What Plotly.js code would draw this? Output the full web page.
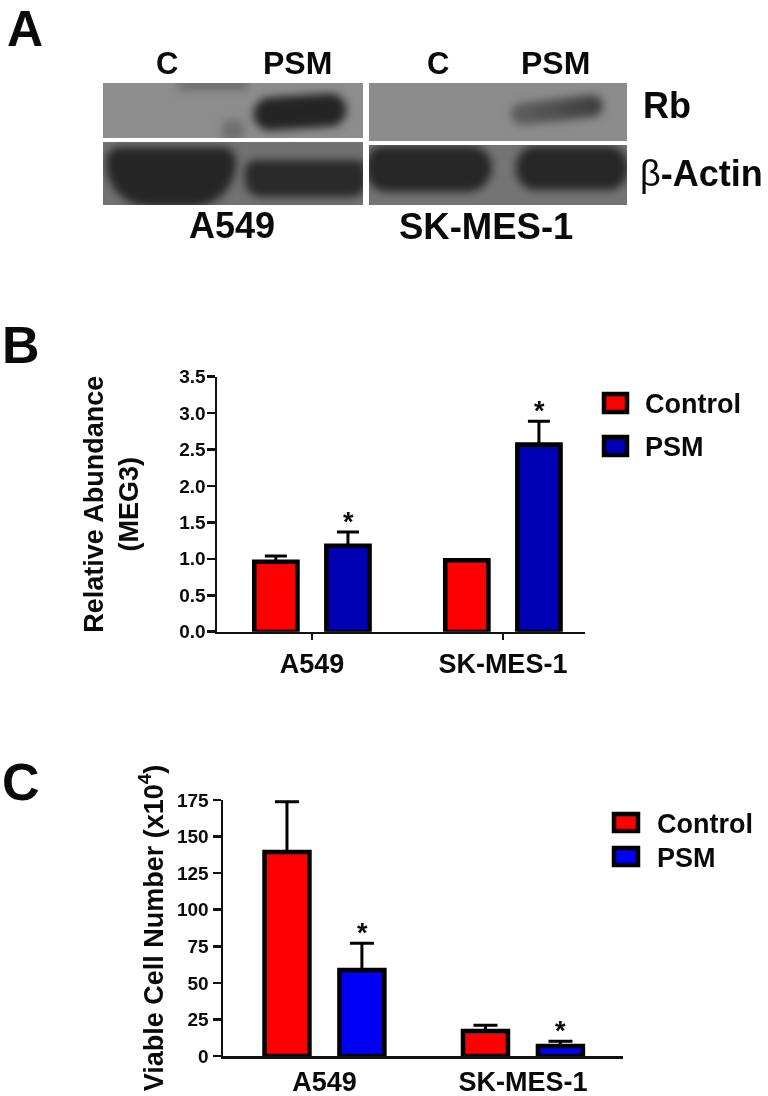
<!DOCTYPE html>
<html><head><meta charset="utf-8">
<script src="https://cdn.plot.ly/plotly-3.0.1.min.js"></script>
<style>html,body{margin:0;padding:0;background:#fff}#chart{width:768px;height:1096px;filter:blur(0.4px)}</style>
</head><body><div id="chart"></div>
<script>
const categories = ['A549', 'SK-MES-1'];
const meg3Control = [0.96, 0.98];
const meg3ControlErr = [0.08, 0];
const meg3Psm = [1.18, 2.57];
const meg3PsmErr = [0.19, 0.32];
const cellControl = [139.5, 17.1];
const cellControlErr = [34.3, 3.9];
const cellPsm = [58.8, 6.8];
const cellPsmErr = [18.2, 3.2];
const meg3Ticks = [0, 0.5, 1, 1.5, 2, 2.5, 3, 3.5];
const meg3TickText = ['0.0','0.5','1.0','1.5','2.0','2.5','3.0','3.5'];
const cellTicks = [0, 25, 50, 75, 100, 125, 150, 175];

const W = 768, H = 1096;
const FONT = '"Liberation Sans", Arial, sans-serif';
const RED = '#ff0000', NAVY = '#0000b4', BLUE = '#0000f5', INK = '#0a0a0a';
const px = v => v / W, py = v => 1 - v / H;

function blot() {
  const c = document.createElement('canvas'); c.width = W; c.height = 240;
  const g = c.getContext('2d');
  g.fillStyle = '#fff'; g.fillRect(0, 0, W, 240);
  function panel(x, y, w, h, bg, bands, strokes) {
    g.save(); g.beginPath(); g.rect(x, y, w, h); g.clip();
    g.fillStyle = bg; g.fillRect(x, y, w, h);
    g.filter = 'blur(4.5px)';
    bands.forEach(b => {
      g.fillStyle = b[5]; g.beginPath();
      g.roundRect(b[0], b[1], b[2], b[3], b[4]); g.fill();
    });
    (strokes || []).forEach(s => {
      const grad = g.createLinearGradient(s[0], 0, s[2], 0);
      grad.addColorStop(0, s[5]); grad.addColorStop(1, s[6]);
      g.strokeStyle = grad; g.lineWidth = s[4]; g.lineCap = 'round';
      g.beginPath(); g.moveTo(s[0], s[1]); g.lineTo(s[2], s[3]); g.stroke();
    });
    g.restore();
  }
  panel(103, 83, 260, 55, '#8d8d8d', [
    [178, 80, 70, 10, 4, '#6a6a6a'], [222, 120, 22, 22, 8, '#6f6f6f']],
    [[270, 114, 330, 110, 33, '#242424', '#242424']]);
  panel(369, 83, 258, 58, '#8c8c8c', [],
    [[522, 114, 592, 106, 22, '#5c5c5c', '#404040']]);
  panel(103, 142, 260, 63, '#727272', [
    [106, 147, 130, 60, [14, 14, 44, 44], '#262626'],
    [245, 160, 122, 37, [10, 10, 16, 16], '#2a2a2a']]);
  panel(369, 145, 258, 60, '#747474', [
    [366, 146, 126, 46, [18, 22, 26, 22], '#272727'], [516, 146, 112, 44, 20, '#272727']]);
  return c.toDataURL('image/png');
}

function txt(text, x, y, size, extra) {
  return Object.assign({text, x: px(x), y: py(y), xref: 'paper', yref: 'paper',
    xanchor: 'center', yanchor: 'middle', showarrow: false,
    font: {family: FONT, size, color: INK, weight: 700}}, extra || {});
}
function swatch(x0, y0, x1, y1, fill) {
  return {type: 'rect', xref: 'paper', yref: 'paper', x0: px(x0), x1: px(x1), y0: py(y0), y1: py(y1),
    fillcolor: fill, line: {color: '#000', width: 4.5}};
}
function star(xa, ya, x, y) {
  return {text: '*', xref: xa, yref: ya, x, y, showarrow: false, yanchor: 'bottom', xanchor: 'center',
    yshift: -7, font: {family: FONT, size: 27, color: INK, weight: 700}};
}
function series(name, x, xa, ya, y, err, color, cap) {
  return {type: 'bar', name, x, y, xaxis: xa, yaxis: ya, showlegend: false,
    marker: {color, line: {color: '#000', width: 4.5}},
    error_y: {type: 'data', symmetric: false, array: err, arrayminus: err.map(() => 0),
      color: '#000', thickness: 3, width: cap, visible: true}};
}
const axisBase = {showgrid: false, zeroline: false, showline: true, linecolor: '#111', linewidth: 2.5,
  ticks: 'outside', tickcolor: '#111', tickwidth: 2.5, fixedrange: true};

const data = [
  series('Control', categories, 'x', 'y', meg3Control, meg3ControlErr, RED, 11),
  series('PSM', categories, 'x', 'y', meg3Psm, meg3PsmErr, NAVY, 11),
  series('Control', categories, 'x2', 'y2', cellControl, cellControlErr, RED, 12),
  series('PSM', categories, 'x2', 'y2', cellPsm, cellPsmErr, BLUE, 12)
];

const layout = {
  width: W, height: H, margin: {l: 0, r: 0, t: 0, b: 0, pad: 0}, autosize: false,
  paper_bgcolor: '#fff', plot_bgcolor: 'rgba(0,0,0,0)',
  barmode: 'group', bargap: 0.245, bargroupgap: 0.4,
  xaxis: Object.assign({}, axisBase, {domain: [px(217), px(585)], type: 'category', anchor: 'y',
    range: [-0.497, 1.43], ticklen: 6, ticklabelstandoff: 0,
    tickfont: {family: FONT, size: 27, color: INK, weight: 700}}),
  yaxis: Object.assign({}, axisBase, {domain: [py(631.7), py(376.7)], anchor: 'x', range: [0, 3.5],
    tickvals: meg3Ticks, ticktext: meg3TickText, ticklen: 8, ticklabelstandoff: -3,
    tickfont: {family: FONT, size: 19, color: INK, weight: 700},
    title: {text: 'Relative Abundance<br>(MEG3)', standoff: 33,
      font: {family: FONT, size: 27, color: INK, weight: 700}}}),
  xaxis2: Object.assign({}, axisBase, {domain: [px(223), px(623)], type: 'category', anchor: 'y2',
    range: [-0.511, 1.504], ticks: '', ticklabelstandoff: 0,
    tickfont: {family: FONT, size: 27, color: INK, weight: 700}}),
  yaxis2: Object.assign({}, axisBase, {domain: [py(1056), py(800)], anchor: 'x2', range: [0, 175],
    tickvals: cellTicks, ticklen: 8,
    tickfont: {family: FONT, size: 19, color: INK, weight: 700},
    title: {text: 'Viable Cell Number (x10<sup>4</sup>)', standoff: 6,
      font: {family: FONT, size: 27, color: INK, weight: 700}}}),
  images: [{source: blot(), xref: 'paper', yref: 'paper', x: 0, y: py(0), sizex: 1, sizey: 240 / H,
    xanchor: 'left', yanchor: 'top', sizing: 'stretch', layer: 'below'}],
  shapes: [
    swatch(604, 394, 627, 412, RED), swatch(604, 437, 627, 455, NAVY),
    swatch(614, 814, 638, 831, RED), swatch(614, 848, 638, 865, BLUE)
  ],
  annotations: [
    txt('A', 25, 29, 50), txt('B', 21, 345, 52), txt('C', 21, 782, 52),
    txt('C', 167, 63, 31), txt('PSM', 297, 63, 32), txt('C', 438, 63, 31), txt('PSM', 555, 63, 32),
    txt('Rb', 667, 105, 36), txt('<span style="font-weight:400">β</span>-Actin', 701, 173, 36),
    txt('A549', 232, 225, 36), txt('SK-MES-1', 486, 226, 36.5),
    txt('Control', 643, 404, 27, {xanchor: 'left'}), txt('PSM', 643, 447, 27, {xanchor: 'left'}),
    txt('Control', 655, 824, 27, {xanchor: 'left'}), txt('PSM', 655, 858, 27, {xanchor: 'left'}),
    star('x', 'y', 0.19, meg3Psm[0] + meg3PsmErr[0]), star('x', 'y', 1.19, meg3Psm[1] + meg3PsmErr[1]),
    star('x2', 'y2', 0.19, cellPsm[0] + cellPsmErr[0]), star('x2', 'y2', 1.19, cellPsm[1] + cellPsmErr[1])
  ]
};
Plotly.newPlot('chart', data, layout, {displayModeBar: false, staticPlot: true});
</script></body></html>
